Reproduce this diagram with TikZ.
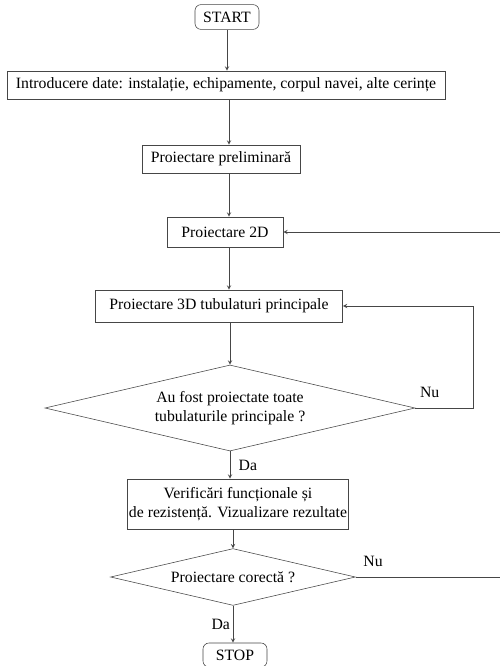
\documentclass[tikz,border=0pt]{standalone}
\usepackage{fontspec}
\setmainfont{Liberation Serif}
\usetikzlibrary{positioning}
\usetikzlibrary{shapes.geometric}
\tikzstyle{chart} = [x = .025cm, y = -.025cm, font=\fontsize{11.2}{13}\selectfont]
\definecolor{lineColor}{RGB}{70,70,70}
\tikzstyle{boxStyle} = [draw=lineColor, thin, fill=white, inner sep=1pt, align=center]
\tikzstyle{terminalStyle} = [boxStyle, rounded corners = .15cm]
\tikzstyle{decisionStyle} = [draw=lineColor, thin, diamond, aspect=4.3, inner sep=0pt, align=center]
\tikzstyle{flowLine} = [color=lineColor, thin]
\tikzstyle{flowArrow} = [flowLine, ->, >=stealth]
\tikzstyle{answerText} = [inner sep=1pt, text=black]
\newcommand{\processBox}[5]{\node [boxStyle, minimum width=#4, minimum height=#5] (#1) at (#2) {#3};}
\newcommand{\decisionBox}[5]{\node [decisionStyle, minimum width=#4, minimum height=#5] (#1) at (#2) {#3};}

\begin{document}
\begin{tikzpicture}[chart]
  \useasboundingbox (0,0) rectangle (500,666);
  \coordinate (axis) at (229,0);
  \coordinate (loopSide) at (473,0);
  \coordinate (pageEdge) at (500,0);

  \node [terminalStyle, minimum width=1.6cm, minimum height=.62cm] (start) at (227,17) {START};
  \processBox{intro}{226,85}{Introducere date: instalație, echipamente, corpul navei, alte cerințe}{10.95cm}{.7cm}
  \processBox{prelim}{221,159}{Proiectare preliminară}{3.95cm}{.7cm}
  \processBox{twoD}{225,232}{Proiectare 2D}{2.9cm}{.75cm}
  \processBox{threeD}{219,306}{Proiectare 3D tubulaturi principale}{6.18cm}{.8cm}
  \decisionBox{decTubes}{230,408}{Au fost proiectate toate\\tubulaturile principale ?}{9.25cm}{2.15cm}
  \processBox{verif}{238,504}{Verificări funcționale și\\de rezistență. Vizualizare rezultate}{5.53cm}{1.25cm}
  \decisionBox{decCheck}{233,577}{Proiectare corectă ?}{6.12cm}{1.42cm}
  \node [terminalStyle, minimum width=1.6cm, minimum height=.6cm] (stop) at (235,655) {STOP};

  % main line
  \draw [flowArrow] (start) -- (start |- intro.north);
  \draw [flowArrow] (intro.south -| axis) -- (prelim.north -| axis);
  \draw [flowArrow] (prelim.south -| axis) -- (twoD.north -| axis);
  \draw [flowArrow] (twoD.south -| axis) -- (threeD.north -| axis);
  \draw [flowArrow] (threeD.south -| decTubes) -- (decTubes.north);
  \draw [flowArrow] (decTubes.south) -- node [answerText, right=5pt] {Da} (decTubes.south |- verif.north);
  \draw [flowArrow] (verif.south -| decCheck) -- (decCheck.north);
  \draw [flowArrow] (decCheck.south) -- node [answerText, left=1pt] {Da} (decCheck.south |- stop.north);

  % loops back
  \draw [flowArrow] (decTubes.east) -- node [answerText, above=6pt, pos=.25] {Nu} (decTubes.east -| loopSide) |- (threeD.east);
  \draw [flowLine] (decCheck.east) -- node [answerText, above=6pt, pos=.12] {Nu} (decCheck.east -| pageEdge);
  \draw [flowArrow] (twoD.east -| pageEdge) -- (twoD.east);
\end{tikzpicture}
\end{document}
